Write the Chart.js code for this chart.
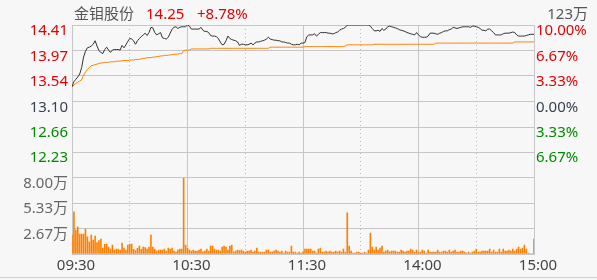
<!DOCTYPE html>
<html>
<head>
<meta charset="utf-8">
<script src="https://cdn.jsdelivr.net/npm/chart.js@4/dist/chart.umd.min.js"></script>
<style>
html, body { margin: 0; padding: 0; background: #f7f7f7; }
#wrap { position: relative; width: 597px; height: 280px; overflow: hidden; background: #f7f7f7; }
#chart { position: absolute; left: 0; top: 0; }
.t { position: absolute; top: 3px; font: 15px "Noto Sans", "Noto Sans CJK SC", sans-serif; line-height: 20px; white-space: nowrap; }
#frame { position: absolute; left: 0; top: 277px; width: 597px; height: 1px; background: #cfcfcf; }
</style>
</head>
<body>
<div id="wrap">
  <canvas id="chart" width="597" height="280"></canvas>
  <span class="t" style="left:74px;color:#555">金钼股份</span>
  <span class="t" style="left:146px;color:#e60000">14.25</span>
  <span class="t" style="left:197px;color:#e60000">+8.78%</span>
  <span class="t" style="right:9px;color:#555">123万</span>
  <div id="frame"></div>
</div>
<script>
// -----------------------
// 分时数据（1分钟，09:30-11:30 / 13:00-15:00）
// -----------------------
const preClose = 13.10;
const timeLabels = ["09:30", "10:30", "11:30", "14:00", "15:00"];
const timeTickMinutes = [0, 60, 120, 180, 240];
const gridMinutes = [0, 30, 60, 90, 120, 150, 180, 210, 240];
const priceTicks = [14.41, 13.97, 13.54, 13.10, 12.66, 12.23];
const pctTicks = [10.00, 6.67, 3.33, 0.00, -3.33, -6.67];
const volTicks = [2.67, 5.33, 8.00];
const volMax = 10.67;

const price = [
    13.35, 13.44, 13.48, 13.52, 13.57, 13.68, 13.86, 13.96, 14.02, 14.03,
    14.05, 14.08, 14.14, 14.05, 13.97, 13.94, 13.92, 13.99, 14.03, 13.98,
    13.94, 13.98, 13.99, 13.99, 13.99, 13.98, 14.06, 14.02, 14.07, 14.13,
    14.18, 14.17, 14.14, 14.08, 14.14, 14.18, 14.21, 14.24, 14.27, 14.23,
    14.28, 14.37, 14.36, 14.28, 14.24, 14.26, 14.28, 14.19, 14.18, 14.17,
    14.20, 14.27, 14.34, 14.37, 14.38, 14.35, 14.37, 14.38, 14.38, 14.38,
    14.41, 14.39, 14.34, 14.34, 14.34, 14.34, 14.34, 14.37, 14.32, 14.30,
    14.30, 14.28, 14.23, 14.22, 14.22, 14.21, 14.18, 14.12, 14.07, 14.08,
    14.14, 14.22, 14.18, 14.16, 14.15, 14.14, 14.12, 14.06, 14.08, 14.08,
    14.07, 14.07, 14.08, 14.10, 14.07, 14.10, 14.12, 14.12, 14.13, 14.14,
    14.15, 14.17, 14.20, 14.17, 14.16, 14.15, 14.15, 14.14, 14.14, 14.12,
    14.12, 14.11, 14.10, 14.10, 14.08, 14.07, 14.07, 14.08, 14.07, 14.10,
    14.10, 14.11, 14.21, 14.24, 14.24, 14.24, 14.26, 14.22, 14.25, 14.28,
    14.28, 14.28, 14.28, 14.27, 14.27, 14.26, 14.26, 14.28, 14.29, 14.32,
    14.34, 14.35, 14.37, 14.41, 14.41, 14.41, 14.41, 14.41, 14.41, 14.41,
    14.41, 14.41, 14.41, 14.41, 14.41, 14.39, 14.35, 14.31, 14.31, 14.32,
    14.30, 14.35, 14.32, 14.34, 14.38, 14.39, 14.38, 14.37, 14.36, 14.35,
    14.33, 14.32, 14.31, 14.30, 14.28, 14.27, 14.26, 14.25, 14.24, 14.28,
    14.24, 14.21, 14.20, 14.20, 14.20, 14.22, 14.27, 14.27, 14.27, 14.26,
    14.25, 14.27, 14.28, 14.30, 14.31, 14.31, 14.33, 14.34, 14.37, 14.36,
    14.35, 14.36, 14.37, 14.38, 14.38, 14.38, 14.38, 14.37, 14.39, 14.39,
    14.38, 14.37, 14.35, 14.32, 14.32, 14.31, 14.34, 14.34, 14.31, 14.28,
    14.24, 14.24, 14.24, 14.24, 14.26, 14.27, 14.27, 14.27, 14.28, 14.29,
    14.28, 14.24, 14.22, 14.22, 14.22, 14.22, 14.23, 14.24, 14.25, 14.25, 14.25
];

const avgPrice = [
    13.35, 13.38, 13.41, 13.43, 13.45, 13.47, 13.55, 13.60, 13.65, 13.68,
    13.71, 13.72, 13.73, 13.74, 13.75, 13.76, 13.76, 13.77, 13.77, 13.77,
    13.78, 13.78, 13.78, 13.79, 13.79, 13.79, 13.80, 13.80, 13.80, 13.80,
    13.81, 13.81, 13.81, 13.82, 13.82, 13.82, 13.83, 13.84, 13.84, 13.85,
    13.85, 13.85, 13.86, 13.86, 13.87, 13.87, 13.88, 13.88, 13.89, 13.89,
    13.89, 13.90, 13.90, 13.91, 13.91, 13.91, 13.92, 13.92, 13.97, 13.98,
    13.98, 13.98, 14.00, 14.00, 14.00, 14.00, 14.00, 14.00, 14.00, 14.00,
    14.00, 14.00, 14.01, 14.01, 14.01, 14.01, 14.01, 14.01, 14.01, 14.01,
    14.01, 14.01, 14.01, 14.01, 14.01, 14.01, 14.01, 14.01, 14.01, 14.01,
    14.01, 14.01, 14.01, 14.01, 14.01, 14.01, 14.01, 14.01, 14.01, 14.01,
    14.01, 14.01, 14.01, 14.03, 14.03, 14.03, 14.03, 14.03, 14.03, 14.03,
    14.03, 14.03, 14.03, 14.03, 14.03, 14.03, 14.03, 14.03, 14.03, 14.03,
    14.03, 14.04, 14.04, 14.04, 14.04, 14.04, 14.04, 14.04, 14.04, 14.04,
    14.04, 14.04, 14.04, 14.04, 14.04, 14.04, 14.04, 14.04, 14.04, 14.04,
    14.04, 14.04, 14.05, 14.07, 14.07, 14.07, 14.07, 14.07, 14.07, 14.07,
    14.07, 14.07, 14.07, 14.07, 14.07, 14.07, 14.07, 14.08, 14.08, 14.08,
    14.08, 14.08, 14.08, 14.08, 14.08, 14.08, 14.08, 14.08, 14.08, 14.08,
    14.08, 14.08, 14.08, 14.08, 14.08, 14.08, 14.08, 14.08, 14.08, 14.08,
    14.08, 14.08, 14.08, 14.08, 14.08, 14.08, 14.08, 14.08, 14.08, 14.10,
    14.10, 14.10, 14.10, 14.10, 14.10, 14.10, 14.10, 14.10, 14.10, 14.10,
    14.10, 14.10, 14.10, 14.10, 14.10, 14.10, 14.10, 14.10, 14.10, 14.10,
    14.10, 14.10, 14.10, 14.10, 14.10, 14.10, 14.10, 14.10, 14.10, 14.10,
    14.10, 14.10, 14.10, 14.10, 14.10, 14.10, 14.10, 14.10, 14.10, 14.10,
    14.12, 14.12, 14.12, 14.12, 14.12, 14.12, 14.12, 14.12, 14.12, 14.12, 14.12
];

// 成交量（万）
const volume = [
    1.99, 4.43, 2.51, 2.86, 2.09, 2.09, 2.09, 2.62, 1.81, 1.26,
    1.99, 1.46, 1.88, 1.19, 1.40, 1.57, 0.63, 1.01, 1.05, 0.73,
    0.52, 0.94, 0.42, 0.52, 0.52, 0.42, 1.15, 0.63, 0.42, 0.94,
    1.05, 1.05, 0.49, 0.35, 0.59, 0.84, 0.49, 0.73, 0.66, 0.52,
    0.73, 1.99, 0.73, 0.52, 0.31, 0.42, 0.42, 0.42, 0.52, 0.31,
    0.63, 0.52, 0.63, 0.31, 0.21, 0.42, 0.52, 0.52, 7.92, 0.94,
    0.59, 0.42, 0.31, 0.42, 0.31, 0.31, 0.42, 0.52, 0.24, 0.31,
    0.52, 0.31, 0.84, 0.84, 0.52, 0.42, 0.42, 0.31, 0.73, 0.84,
    0.73, 0.42, 0.84, 0.94, 0.24, 0.31, 0.42, 0.35, 0.42, 0.31,
    0.21, 0.31, 0.31, 0.42, 0.21, 0.31, 0.63, 0.21, 0.21, 0.21,
    0.21, 0.42, 0.42, 0.21, 0.24, 0.31, 0.42, 0.31, 0.21, 0.31,
    0.10, 0.31, 0.21, 0.21, 0.84, 0.21, 0.21, 0.10, 0.21, 0.10,
    0.24, 0.52, 0.52, 0.52, 0.52, 0.31, 0.31, 0.10, 0.52, 0.63,
    0.21, 0.21, 0.31, 0.21, 0.31, 0.21, 0.21, 0.31, 0.21, 0.31,
    0.21, 0.52, 0.21, 4.32, 0.84, 0.31, 0.10, 0.10, 0.21, 0.21,
    0.10, 0.10, 0.21, 0.10, 0.42, 2.20, 0.73, 0.42, 0.73, 0.42,
    0.63, 0.84, 0.21, 0.31, 0.42, 0.24, 0.31, 0.31, 0.31, 0.21,
    0.21, 0.42, 0.31, 0.21, 0.31, 0.31, 0.52, 0.42, 0.21, 0.42,
    0.21, 0.21, 0.42, 0.31, 0.10, 0.42, 0.21, 0.21, 0.21, 0.21,
    0.42, 0.21, 0.21, 0.31, 0.31, 0.21, 0.42, 0.21, 0.31, 0.42,
    0.21, 0.21, 0.31, 0.31, 0.21, 0.10, 0.21, 0.10, 0.21, 0.31,
    0.52, 0.21, 0.21, 0.31, 0.31, 0.31, 0.31, 0.52, 0.21, 0.42,
    0.21, 0.21, 0.52, 0.21, 0.52, 0.31, 0.31, 0.42, 0.31, 0.52,
    0.31, 0.52, 0.73, 0.52, 0.63, 0.94, 0.52, 0.10, 0.05, 0.05, 1.57
];

// -----------------------
// 描画
// -----------------------
const RED = "#e60000";
const GREEN = "#008a00";
const GRAY = "#3a4250";
const GRID = "#c6c6c6";
const ORANGE = "#ff8000";

Chart.defaults.font.family = '"Noto Sans", "Noto Sans CJK SC", sans-serif';
Chart.defaults.font.size = 15;

const upDownColor = v => v > 0.001 ? RED : (v < -0.001 ? GREEN : GRAY);
const setTicks = values => scale => { scale.ticks = values.map(v => ({ value: v })); };

new Chart(document.getElementById("chart"), {
    type: "line",
    data: {
        labels: price.map((_, i) => i),
        datasets: [
            { data: price, yAxisID: "y", borderColor: "#333", borderWidth: 1, pointRadius: 0, tension: 0, order: 1 },
            { data: avgPrice, yAxisID: "y", borderColor: ORANGE, borderWidth: 1, pointRadius: 0, tension: 0, order: 2 },
            { type: "bar", data: volume, yAxisID: "yv", backgroundColor: ORANGE, barThickness: 1, borderWidth: 0, order: 3 }
        ]
    },
    options: {
        responsive: false,
        animation: false,
        layout: { padding: { top: 25 } },
        plugins: { legend: { display: false }, tooltip: { enabled: false } },
        scales: {
            x: {
                type: "linear",
                min: 0,
                max: 240,
                offset: false,
                afterBuildTicks: setTicks(gridMinutes),
                afterFit: s => { s.height = 26; },
                grid: {
                    offset: false,
                    drawTicks: false,
                    color: ctx => ctx.tick && !timeTickMinutes.includes(ctx.tick.value) ? "#b8b8b8" : GRID
                },
                border: {
                    color: GRID,
                    dash: ctx => ctx.tick && !timeTickMinutes.includes(ctx.tick.value) ? [1, 3] : []
                },
                ticks: {
                    autoSkip: false,
                    maxRotation: 0,
                    padding: 3,
                    labelOffset: 4,
                    color: "#444",
                    callback: v => {
                        const i = timeTickMinutes.indexOf(v);
                        return i >= 0 ? timeLabels[i] : "";
                    }
                }
            },
            y: {
                position: "left",
                stack: "left",
                stackWeight: 5,
                weight: 2,
                min: priceTicks[priceTicks.length - 1],
                max: priceTicks[0],
                afterBuildTicks: setTicks(priceTicks),
                afterFit: s => { s.width = 72; },
                grid: { color: GRID, drawTicks: false },
                border: { color: GRID },
                ticks: {
                    autoSkip: false,
                    padding: 4,
                    labelOffset: 6,
                    color: ctx => upDownColor(ctx.tick.value - preClose),
                    callback: v => Number(v).toFixed(2)
                }
            },
            yv: {
                position: "left",
                stack: "left",
                stackWeight: 4,
                weight: 1,
                min: 0,
                max: volMax,
                afterBuildTicks: setTicks([0].concat(volTicks, [volMax])),
                afterFit: s => { s.width = 72; },
                grid: { color: GRID, drawTicks: false },
                border: { color: GRID },
                ticks: {
                    autoSkip: false,
                    padding: 4,
                    labelOffset: 6,
                    color: "#666",
                    callback: v => volTicks.includes(v) ? v.toFixed(2) + "万" : ""
                }
            },
            yp: {
                position: "right",
                stack: "right",
                stackWeight: 5,
                weight: 1,
                min: pctTicks[pctTicks.length - 1],
                max: pctTicks[0],
                afterBuildTicks: setTicks(pctTicks),
                afterFit: s => { s.width = 63; },
                grid: { display: false, drawTicks: false },
                border: { color: GRID },
                ticks: {
                    autoSkip: false,
                    padding: 2,
                    labelOffset: 6,
                    color: ctx => upDownColor(ctx.tick.value),
                    callback: v => Math.abs(v).toFixed(2) + "%"
                }
            },
            yr: {
                position: "right",
                stack: "right",
                stackWeight: 4,
                weight: 2,
                min: 0,
                max: volMax,
                afterFit: s => { s.width = 63; },
                grid: { display: false, drawTicks: false },
                border: { color: GRID },
                ticks: { display: false }
            }
        }
    }
});
</script>
</body>
</html>
